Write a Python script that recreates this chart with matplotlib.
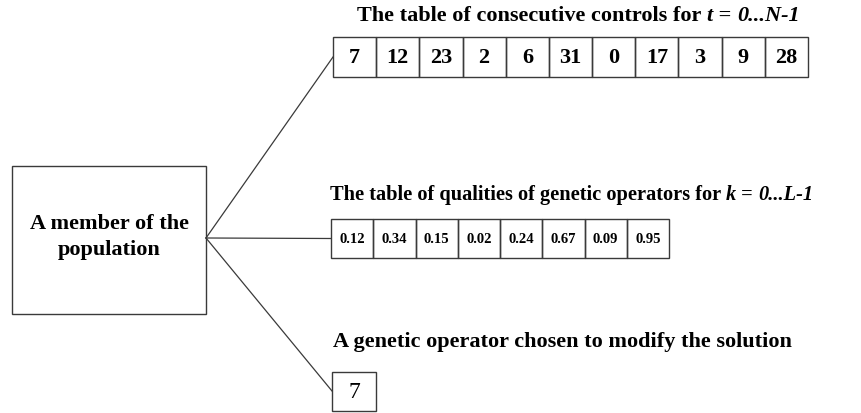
import matplotlib.pyplot as plt
from matplotlib.patches import Rectangle

# data of the diagram
member_label = 'A member of the\npopulation'
controls = [7, 12, 23, 2, 6, 31, 0, 17, 3, 9, 28]
qualities = [0.12, 0.34, 0.15, 0.02, 0.24, 0.67, 0.09, 0.95]
chosen_operator = 7
title_controls = [('The table of consecutive controls for ', 'normal'), ('t', 'italic'),
                  (' = ', 'normal'), ('0...N-1', 'italic')]
title_qualities = [('The table of qualities of genetic operators for ', 'normal'), ('k', 'italic'),
                   (' = ', 'normal'), ('0...L-1', 'italic')]
title_chosen = 'A genetic operator chosen to modify the solution'

W, H = 861, 414
fig = plt.figure(figsize=(W / 100, H / 100), dpi=100)
ax = fig.add_axes([0, 0, 1, 1])
ax.set_xlim(0, W)
ax.set_ylim(H, 0)
ax.axis('off')

serif = 'Liberation Serif'
edge = '#3a3a3a'
renderer = fig.canvas.get_renderer()


def rich_text(x, y, parts, size):
    # draw pieces one after the other, measuring each in pixels
    for s, style in parts:
        t = ax.text(x, y, s, family=serif, weight='bold', style=style,
                    fontsize=size, ha='left', va='center')
        bb = t.get_window_extent(renderer)
        x += bb.width


def cell_row(x0, y0, w, h, values, fmt, size, weight):
    for i, v in enumerate(values):
        ax.add_patch(Rectangle((x0 + i * w, y0), w, h, fill=False, ec=edge, lw=1))
        ax.text(x0 + i * w + w / 2, y0 + h / 2, fmt.format(v), family=serif,
                weight=weight, fontsize=size, ha='center', va='center')


# main box
ax.add_patch(Rectangle((12, 167), 194, 148, fill=False, ec=edge, lw=1))
ax.text(109, 237, member_label, family=serif, weight='bold', fontsize=16,
        ha='center', va='center', linespacing=1.45)

hub = (206, 239)

# top table
rich_text(357, 16, title_controls, 16)
cell_row(333, 38, 475 / len(controls), 40, controls, '{}', 16, 'bold')
ax.plot([hub[0], 333], [hub[1], 58], color=edge, lw=0.9)

# middle table
rich_text(330, 195, title_qualities, 14.7)
cell_row(331, 220, 338 / len(qualities), 39, qualities, '{:.2f}', 10.5, 'bold')
ax.plot([hub[0], 331], [hub[1], 239.5], color=edge, lw=0.9)

# chosen operator
ax.text(333, 342, title_chosen, family=serif, weight='bold', fontsize=16,
        ha='left', va='center')
cell_row(332, 373, 44, 39, [chosen_operator], '{}', 17, 'normal')
ax.plot([hub[0], 332], [hub[1], 392], color=edge, lw=0.9)

fig.savefig('out.png', dpi=100)
